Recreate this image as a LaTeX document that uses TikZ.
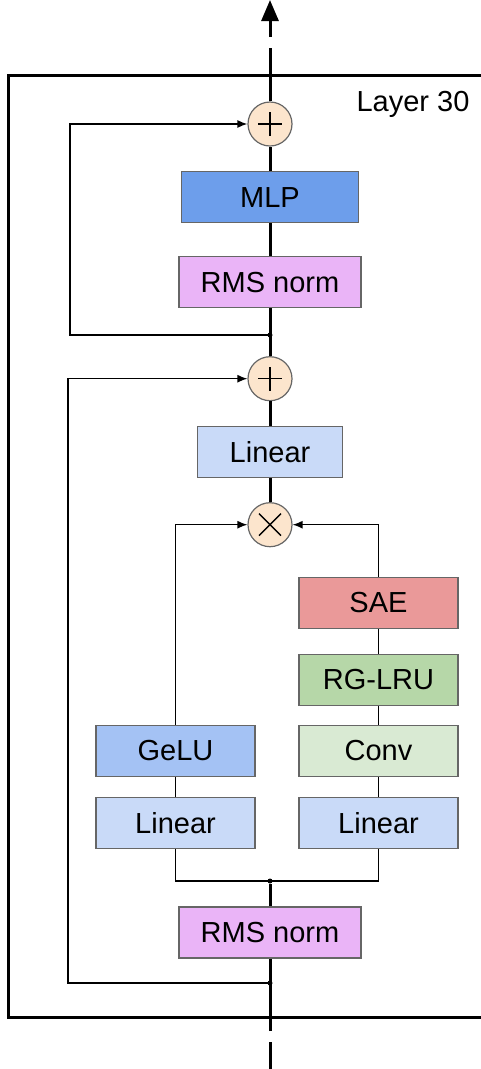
\documentclass[tikz,border=0pt]{standalone}
\usepackage{fontspec}
\setmainfont{Liberation Sans}
\usepackage{xcolor}
\usetikzlibrary{arrows.meta, positioning}

\definecolor{opfill}{HTML}{FCE5CD}
\definecolor{mlpblue}{HTML}{6D9EEB}
\definecolor{normviolet}{HTML}{EAB4F7}
\definecolor{linblue}{HTML}{C9DAF8}
\definecolor{gelublue}{HTML}{A4C2F4}
\definecolor{saered}{HTML}{EA9999}
\definecolor{lrugreen}{HTML}{B6D7A8}
\definecolor{convgreen}{HTML}{D9EAD3}

\begin{document}
\begin{tikzpicture}[
  x=1pt, y=-1pt,
  block/.style={
    rectangle,
    draw=black!60,
    line width=1.2pt,
    minimum height=51pt,
    inner sep=0pt,
    font=\fontsize{29}{34}\selectfont
  },
  op/.style={
    circle,
    draw=black!60,
    fill=opfill,
    line width=1.2pt,
    minimum size=44pt,
    inner sep=0pt
  },
  addop/.style={op, path picture={
    \draw[black, line width=1.4pt]
      (path picture bounding box.center) ++(-12pt,0) -- ++(24pt,0)
      (path picture bounding box.center) ++(0,-12pt) -- ++(0,24pt);}},
  mulop/.style={op, path picture={
    \draw[black, line width=1.4pt]
      (path picture bounding box.center) ++(-11pt,-11pt) -- ++(22pt,22pt)
      (path picture bounding box.center) ++(-11pt,11pt) -- ++(22pt,-22pt);}},
  trunk/.style={line width=3pt, draw=black},
  wire/.style={line width=1.4pt, draw=black},
  arrow/.style={wire, -{Latex[length=10pt, width=8pt]}},
  dot/.style={circle, fill=black, inner sep=0pt, minimum size=5pt}
]
\useasboundingbox (0,0) rectangle (480,1069);

% layer frame
\draw[line width=3pt] (481.5,75) -- (8,75) -- (8,1017) -- (481.5,1017);
\node[anchor=east, font=\fontsize{29}{34}\selectfont] (layer) at (473,104) {Layer 30};

% residual stream
\node[addop] (addtop) at (270,124) {};
\node[block, fill=mlpblue, minimum width=177pt, below=24.5pt of addtop] (mlp) {MLP};
\node[block, fill=normviolet, minimum width=182pt, below=32.8pt of mlp] (normtop) {RMS norm};
\node[dot] (splittop) at (270,335) {};
\node[addop, below=47.8pt of normtop] (addmid) {};
\node[block, fill=linblue, minimum width=145pt, below=24.8pt of addmid] (linout) {Linear};
\node[mulop, below=23.8pt of linout] (gate) {};

% recurrent branch
\node[block, fill=saered, minimum width=159pt] (sae) at (378.5,603) {SAE};
\node[block, fill=lrugreen, minimum width=159pt, below=24.8pt of sae] (rglru) {RG-LRU};
\node[block, fill=convgreen, minimum width=159pt, below=18.8pt of rglru] (conv) {Conv};
\node[block, fill=linblue, minimum width=159pt, below=19.8pt of conv] (linright) {Linear};

% gate branch
\node[block, fill=gelublue, minimum width=159pt, left=42.8pt of conv] (gelu) {GeLU};
\node[block, fill=linblue, minimum width=159pt, left=42.8pt of linright] (linleft) {Linear};

\node[dot] (join) at (270,881) {};
\node[block, fill=normviolet, minimum width=182pt] (normbot) at (270,932.5) {RMS norm};
\node[dot] (splitbot) at (270,983) {};

\coordinate (skiptop) at (70,335);
\coordinate (skipmid) at (68,983);
\coordinate (inend) at (270,1031);
\coordinate (instart) at (270,1042);
\coordinate (inlow) at (270,1069);
\coordinate (outstart) at (270,48);
\coordinate (outend) at (270,37);
\coordinate (outtip) at (270,0);

\draw[trunk] (inlow) -- (instart);
\draw[trunk] (inend) -- (normbot);
\draw[trunk] (normbot) -- (join);
\draw[wire] (join.center) -| (linleft);
\draw[wire] (join.center) -| (linright);
\draw[wire] (linleft) -- (gelu);
\draw[arrow] (gelu) |- (gate);
\draw[wire] (linright) -- (conv);
\draw[wire] (conv) -- (rglru);
\draw[wire] (rglru) -- (sae);
\draw[arrow] (sae) |- (gate);
\draw[trunk] (gate) -- (linout);
\draw[trunk] (linout) -- (addmid);
\draw[trunk] (addmid) -- (normtop);
\draw[trunk] (normtop) -- (mlp);
\draw[trunk] (mlp) -- (addtop);
\draw[trunk] (addtop) -- (outstart);
\draw[trunk, -{Triangle[length=21pt, width=17pt]}] (outend) -- (outtip);
\draw[arrow] (splitbot.center) -- (skipmid) |- (addmid);
\draw[arrow] (splittop.center) -- (skiptop) |- (addtop);
\end{tikzpicture}
\end{document}
